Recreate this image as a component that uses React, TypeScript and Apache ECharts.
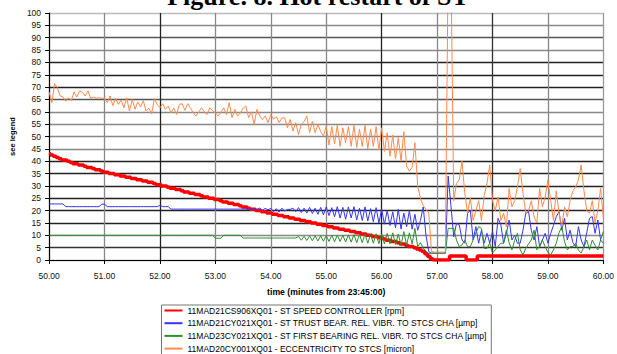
import React, { useEffect, useRef } from "react";
import * as echarts from "echarts";

const T0 = 50;
const DT = 0.05;

const seriesNames = [
  "11MAD21CS906XQ01 - ST SPEED CONTROLLER [rpm]",
  "11MAD21CY021XQ01 - ST TRUST BEAR. REL. VIBR. TO STCS CHA [µmp]",
  "11MAD23CY021XQ01 - ST FIRST BEARING REL. VIBR. TO STCS CHA [µmp]",
  "11MAD20CY001XQ01 - ECCENTRICITY TO STCS [micron]",
];

const speed = [
  43, 42.5, 42, 41.5, 41, 40.5, 40.5, 40, 39.5, 39,
  39, 38.5, 38.5, 38, 37.5, 37.5, 37, 36.5, 36.5, 36,
  35.5, 35.5, 35, 35, 34.5, 34.5, 34, 34, 33.5, 33.5,
  33, 33, 32.5, 32.5, 32, 32, 31.5, 31.5, 31, 30.5,
  30.5, 30, 30, 29.5, 29, 29, 28.5, 28.5, 28, 27.5,
  27.5, 27, 27, 26.5, 26.5, 26, 25.5, 25.5, 25, 25,
  24.5, 24.5, 24, 23.5, 23.5, 23, 23, 22.5, 22.5, 22,
  21.5, 21.5, 21, 20.5, 20.5, 20, 20, 19.5, 19.5, 19,
  19, 18.5, 18.5, 18, 18, 17.5, 17.5, 17, 17, 16.5,
  16.5, 16, 16, 15.5, 15.5, 15, 15, 14.5, 14.5, 14,
  14, 13.5, 13.5, 13, 13, 12.5, 12.5, 12, 12, 11.5,
  11.5, 11, 11, 10.5, 10.5, 10, 10, 9.5, 9.5, 9,
  9, 8.5, 8, 8, 7.5, 7.5, 7, 6.5, 6.5, 6,
  5.5, 5.5, 5, 4.5, 4, 3.5, 2.5, 1.5, 0.5, 0,
  0, 0, 0, 0, 0, 1.6, 1.6, 1.6, 1.6, 1.6,
  1.6, 0, 0, 0, 0, 1.6, 1.6, 1.6, 1.6, 1.6,
  1.6, 1.6, 1.6, 1.6, 1.6, 1.6, 1.6, 1.6, 1.6, 1.6,
  1.6, 1.6, 1.6, 1.6, 1.6, 1.6, 1.6, 1.6, 1.6, 1.6,
  1.6, 1.6, 1.6, 1.6, 1.6, 1.6, 1.6, 1.6, 1.6, 1.6,
  1.6, 1.6, 1.6, 1.6, 1.6, 1.6, 1.6, 1.6, 1.6, 1.6,
  1.6,
];

const thrustVibr = [
  22.7, 22.7, 22.7, 22.7, 22.7, 22.7, 21.6, 21.6, 21.6, 21.6,
  21.6, 21.6, 21.6, 21.6, 21.6, 21.6, 21.6, 21.6, 21.6, 22.6,
  22.6, 21.6, 21.6, 21.6, 21.6, 21.6, 21.6, 21.6, 21.6, 21.6,
  21.6, 21.6, 21.6, 21.6, 21.6, 21.6, 21.6, 21.6, 21.6, 21.6,
  22.1, 21.6, 21.6, 21.6, 20.6, 20.6, 20.6, 20.6, 20.6, 20.6,
  20.6, 20.6, 20.6, 20.6, 20.6, 20.6, 20.6, 20.6, 20.6, 20.6,
  20.6, 20.6, 20.6, 20.6, 20.6, 20.6, 20.6, 20.6, 20.6, 20.6,
  20.6, 20.6, 20.6, 20.6, 20.6, 20.5, 21, 20.2, 20.9, 20.3,
  20.9, 19.6, 20.8, 19.4, 21.0, 19.8, 20.5, 20.5, 21.0, 19.5,
  21.2, 19.2, 21.0, 19.0, 21.3, 18.8, 21.0, 18.5, 21.3, 18.3,
  21.5, 18.0, 21.2, 17.5, 21.6, 17.0, 21.3, 16.5, 21.5, 17.0,
  21.6, 16.2, 21.0, 16.0, 21.5, 15.8, 20.8, 15.5, 21.2, 15.0,
  20.5, 14.5, 20.0, 14.0, 19.5, 13.0, 20.5, 12.5, 19.0, 13.5,
  20.0, 12.5, 18.5, 12.0, 16.0, 21.5, 10.0, 3.4, 2.8, 2.8,
  2.8, 2.8, 2.8, 2.9, 34, 22, 9.4, 14.8, 14.3, 8.1,
  6.8, 18.9, 20.2, 8.1, 13.5, 6.8, 12.1, 6.8, 10.8, 6.8,
  11.5, 5.4, 16.9, 14.3, 6.8, 10.8, 16.2, 8.1, 10, 6.8,
  6.8, 12.1, 18.9, 19.6, 12, 8.1, 13.5, 5.4, 8.1, 10.8,
  6.8, 10.8, 14, 17.5, 19.6, 12.1, 16.9, 8.1, 12.1, 7,
  5.4, 13.5, 8.1, 5.4, 11, 16.9, 17.6, 10.8, 16.2, 8.1,
  6.8,
];

const firstBearingVibr = [
  10, 10, 10, 10, 10, 10, 10, 10, 10, 10,
  10, 10, 10, 10, 10, 10, 10, 10, 10, 10,
  10, 10, 10, 10, 10, 10, 10, 10, 10, 10,
  10, 10, 10, 10, 10, 10, 10, 10, 10, 10,
  10, 10, 10, 10, 10, 10, 10, 10, 10, 10,
  10, 10, 10, 10, 10, 10, 10, 10, 10, 10,
  8.8, 8.8, 8.8, 10, 10, 10, 10, 10, 10, 10,
  8.9, 8.9, 8.9, 8.9, 8.9, 8.9, 8.9, 8.9, 8.9, 8.9,
  8.9, 8.9, 8.9, 8.9, 8.9, 8.9, 8.9, 8.9, 8.9, 8.9,
  9.5, 8.0, 9.6, 7.9, 9.7, 7.8, 9.8, 7.7, 9.8, 7.6,
  9.9, 7.5, 10.0, 7.4, 10.1, 7.5, 10.0, 7.3, 10.2, 7.2,
  10.3, 7.0, 10.4, 7.0, 10.5, 6.8, 10.3, 6.8, 10.6, 6.6,
  10.5, 6.5, 10.8, 6.5, 11.0, 6.3, 10.5, 6.0, 11.5, 6.0,
  11.0, 6.5, 12.8, 5.4, 7.0, 4.8, 3.5, 2.7, 2.7, 2.7,
  2.7, 2.7, 2.7, 2.7, 12.8, 12.8, 12.8, 8.1, 5.4, 6.1,
  8.1, 5.4, 5.4, 8.1, 11, 13.5, 12.8, 4.7, 4.7, 6.8,
  2.8, 4.1, 5.5, 6.8, 6.8, 12.1, 7, 4.1, 8, 10.8,
  4.1, 2.1, 4.7, 6.5, 8.1, 12.1, 4.1, 5.4, 8.1, 5.4,
  3, 2.1, 4.1, 6.8, 11, 13.5, 7.4, 4.1, 5.4, 5.4,
  6.8, 4, 2.8, 5.4, 8.1, 4.1, 8.1, 6, 4.1, 8.1,
  11.5,
];

const eccentricity = [
  68, 63.7, 71.4, 69.7, 66.4, 66, 64.3, 65.7, 64.5, 68,
  66, 68.4, 68, 66.4, 68.5, 65.5, 66, 65.5, 65.7, 65.5,
  65.5, 63.7, 66.4, 62.5, 65.5, 63, 64.8, 61.6, 65.7, 60.3,
  65, 61, 64, 62, 64.5, 60.3, 61.5, 59.2, 65.4, 63,
  61.6, 63.3, 61, 62.3, 59.6, 61.5, 58.9, 63, 63.3, 60.6,
  63.3, 61.6, 59.6, 58.3, 60, 61.6, 60, 58.9, 61.6, 60.5,
  59.5, 58.3, 59.8, 61.6, 58.9, 63.7, 57.6, 61, 58.3, 59.5,
  61.5, 62.3, 57.6, 60, 54.9, 61, 58.3, 56.9, 58.3, 55.6,
  58.9, 57, 58, 55.6, 57.5, 57.6, 53.5, 56.9, 52.2, 55.6,
  50.8, 54.9, 56, 58.3, 51.5, 56.2, 51.5, 54.9, 52, 50.2,
  54.2, 46.5, 54, 47, 54.5, 46, 53.5, 47.5, 54, 46,
  54.5, 45.5, 53, 46, 54.5, 45, 53, 46, 54, 44.5,
  53.5, 44, 51.5, 42, 50.5, 41, 49.5, 40, 52, 38,
  36, 37.5, 47.5, 30, 25, 22, 20.5, 19, 3.5, 3.2,
  3.2, 3.2, 3.2, 3.2, 120, 120, 24, 31, 32.5, 40,
  27, 19, 25, 16, 20, 24, 16, 26, 31, 38.5,
  24, 20, 25.5, 16, 19, 13.5, 29, 21.5, 24, 29.5,
  37, 27, 19, 20, 24, 17.5, 15, 29, 21.5, 25.5,
  32.5, 24, 16, 28, 19, 13.5, 21.5, 17.5, 24, 28,
  29.5, 32.5, 38.5, 28, 20, 19, 24, 15, 20, 29,
  17,
];

const titleText = "Figure. 8. Hot restart of ST";
const xAxisTitle = "time (minutes from 23:45:00)";
const yAxisTitle = "see legend";

const ySplitColors = [
  "#999", "#333", "#888", "#222", "#222", "#222", "#222", "#222", "#222", "#888",
  "#888", "#888", "#888", "#555", "#222", "#222", "#222", "#888", "#555", "#888", "#bbb",
];
const xSplitColors = ["#222", "#888", "#222", "#888", "#888", "#888", "#222", "#888", "#333", "#888", "#999"];

const toPairs = (arr: number[]) => arr.map((v, i) => [Number((T0 + i * DT).toFixed(2)), v]);

const CHART_H = 420;

export default function App() {
  const ref = useRef<HTMLDivElement>(null);
  useEffect(() => {
    if (!ref.current) return;
    document.body.style.margin = "0";
    document.body.style.overflow = "hidden";
    const chart = echarts.init(ref.current, null, { renderer: "svg" });
    const colors = ["#ff0000", "#3535ff", "#2e8f2e", "#ff8a4c"];
    const widths = [3.5, 1, 1, 1];
    const datas = [speed, thrustVibr, firstBearingVibr, eccentricity];
    chart.setOption({
      animation: false,
      backgroundColor: "#ffffff",
      graphic: [
        {
          type: "text",
          x: 318,
          y: -4,
          style: {
            text: titleText,
            font: 'bold 26px "Liberation Serif"',
            fill: "#000",
            textAlign: "center",
            textVerticalAlign: "middle",
            verticalAlign: "middle",
          },
        },
      ],
      grid: { left: 49, right: 12, top: 13, bottom: CHART_H - 260, containLabel: false },
      legend: {
        show: true,
        orient: "vertical",
        left: 161.5,
        top: 305,
        itemWidth: 18,
        itemHeight: 10,
        itemGap: 3.7,
        padding: [1, 4, 2, 2],
        borderColor: "#777",
        borderWidth: 1,
        itemStyle: { opacity: 0 },
        textStyle: { fontFamily: "Liberation Sans", fontSize: 8.5, color: "#000" },
        data: seriesNames,
      },
      xAxis: {
        type: "value",
        min: 50,
        max: 60,
        interval: 1,
        name: xAxisTitle,
        nameLocation: "middle",
        nameGap: 27,
        nameTextStyle: { fontFamily: "Liberation Sans", fontWeight: "bold", fontSize: 8.7, color: "#000" },
        axisLine: { show: true, onZero: false, lineStyle: { color: "#000", width: 1 } },
        axisTick: { show: true, length: 4, lineStyle: { color: "#000" } },
        axisLabel: {
          fontFamily: "Liberation Sans",
          fontSize: 8.5,
          color: "#111",
          margin: 11,
          formatter: (v: number) => v.toFixed(2),
        },
        splitLine: { show: true, lineStyle: { color: xSplitColors, width: 1.3 } },
      },
      yAxis: {
        type: "value",
        min: 0,
        max: 100,
        interval: 5,
        name: yAxisTitle,
        nameLocation: "middle",
        nameGap: 25,
        nameTextStyle: { fontFamily: "Liberation Sans", fontWeight: "bold", fontSize: 7.5, color: "#000" },
        axisLine: { show: true, lineStyle: { color: "#000", width: 1 } },
        axisTick: { show: true, length: 4, lineStyle: { color: "#000" } },
        axisLabel: { fontFamily: "Liberation Sans", fontSize: 8.5, color: "#111", margin: 8 },
        splitLine: { show: true, lineStyle: { color: ySplitColors, width: 1.3 } },
      },
      series: seriesNames.map((name, k) => ({
        name,
        type: "line",
        data: toPairs(datas[k]),
        showSymbol: false,
        symbol: "none",
        step: k === 0 ? "middle" : undefined,
        clip: true,
        color: colors[k],
        lineStyle: { color: colors[k], width: widths[k] },
      })),
    });
    return () => chart.dispose();
  }, []);
  return <div ref={ref} style={{ position: "fixed", left: 0, top: 0, width: 617, height: CHART_H }} />;
}
